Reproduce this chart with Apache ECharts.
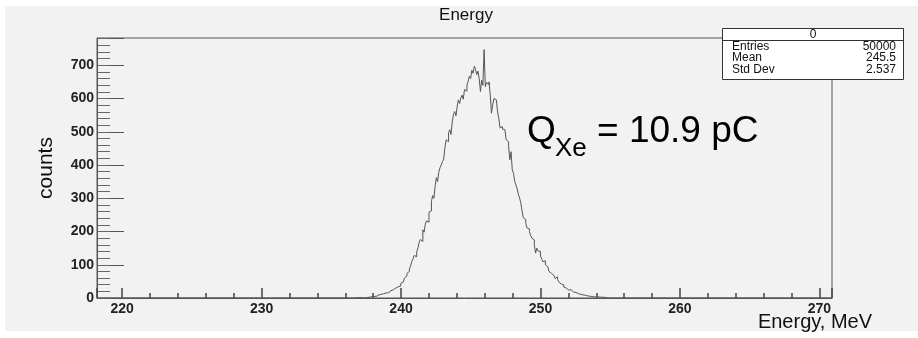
<!DOCTYPE html>
<html>
<head>
<meta charset="utf-8">
<script src="https://cdn.jsdelivr.net/npm/echarts@6/dist/echarts.min.js"></script>
<style>
  html, body { margin: 0; padding: 0; background: #fff; }
  #chart { width: 918px; height: 338px; }
</style>
</head>
<body>
<div id="chart"></div>
<script>
// histogram binning (ROOT style: 600 bins from 218.2 to 270.9)
var binLow = 218.2;
var binHigh = 270.9;
var nBins = 600;
var firstBin = 202;   // first bin listed in counts[]

// bin contents, starting at bin 202 (~235.9 MeV)
var counts = [
    0, 0, 1, 0, 0, 0, 1, 0, 0, 1,
    0, 1, 0, 1, 1, 0, 2, 1, 1, 2,
    3, 4, 3, 5, 6, 5, 7, 9, 8, 11,
    10, 13, 12, 15, 17, 16, 19, 22, 21, 25,
    27, 30, 28, 34, 38, 36, 44, 48, 52, 60,
    66, 74, 80, 88, 96, 110, 118, 128, 124, 140,
    150, 168, 176, 170, 205, 198, 222, 232, 228, 258,
    262, 290, 308, 300, 335, 362, 350, 378, 392, 400,
    410, 418, 452, 476, 470, 498, 506, 492, 530, 552,
    561, 548, 575, 596, 585, 602, 610, 598, 627, 622,
    640, 652, 667, 660, 685, 676, 697, 688, 672, 682,
    660, 621, 655, 640, 747, 636, 648, 642, 650, 612,
    556, 581, 600, 596, 590, 560, 540, 512, 515, 508,
    506, 500, 476, 470, 456, 416, 440, 386, 375, 350,
    340, 328, 312, 300, 285, 262, 241, 236, 225, 211,
    208, 200, 188, 180, 175, 160, 135, 150, 142, 140,
    126, 118, 109, 112, 100, 94, 88, 80, 74, 72,
    68, 62, 58, 64, 56, 48, 42, 36, 40, 33,
    30, 28, 24, 22, 25, 20, 18, 16, 17, 14,
    13, 12, 11, 10, 9, 10, 8, 7, 6, 7,
    5, 6, 4, 5, 3, 4, 3, 2, 3, 2,
    2, 1, 2, 1, 0, 1, 0, 1
];

var statNames = ['Entries', 'Mean', 'Std Dev'];
var statValues = ['50000', '245.5', '2.537'];

var yMax = 782;

var histogram = function () {
    var myChart = echarts.init(document.getElementById('chart'));
    var w = (binHigh - binLow) / nBins;

    // step line: one point per bin low edge
    var pts = [[binLow, 0]];
    for (var i = 0; i < counts.length; i++) {
        pts.push([binLow + (firstBin + i) * w, counts[i]]);
    }
    pts.push([binLow + (firstBin + counts.length) * w, 0]);
    pts.push([binHigh, 0]);

    var font = 'Liberation Sans, Arial, sans-serif';
    var isMult = function (v, m) { return Math.abs(v - Math.round(v / m) * m) < 1e-6; };

    var stats = [];
    statNames.forEach(function (n, k) {
        var y = 46.5 + k * 11.5;
        stats.push({ type: 'text', x: 732, y: y, style: { text: n, font: '12px ' + font, fill: '#111', textAlign: 'left', textVerticalAlign: 'middle' }, z: 101 });
        stats.push({ type: 'text', x: 896, y: y, style: { text: statValues[k], font: '12px ' + font, fill: '#111', textAlign: 'right', textVerticalAlign: 'middle' }, z: 101 });
    });

    option = {
        backgroundColor: '#fff',
        animation: false,
        grid: {
            left: 97, top: 38, right: 86, bottom: 40,
            show: true, borderColor: '#555', borderWidth: 1, backgroundColor: 'transparent'
        },
        xAxis: [
            {
                type: 'value', min: binLow, max: binHigh, splitNumber: 5,
                axisLine: { show: true, onZero: false, lineStyle: { color: '#555' } },
                axisTick: { show: true, inside: true, length: 10, lineStyle: { color: '#444', width: 1.5 } },
                splitLine: { show: false },
                axisLabel: {
                    margin: 4, fontSize: 14, fontWeight: 'bold', color: '#222', fontFamily: font,
                    formatter: function (v) { return isMult(v, 10) ? String(Math.round(v)) : ''; }
                }
            },
            {
                // secondary ticks every 2 MeV
                type: 'value', min: binLow, max: binHigh, splitNumber: 26, position: 'bottom',
                axisLine: { show: true, onZero: false, lineStyle: { color: 'rgba(0,0,0,0)' } },
                axisTick: { show: true, inside: true, length: 5, lineStyle: { color: '#444', width: 1.5 } },
                splitLine: { show: false },
                axisLabel: { show: false }
            }
        ],
        yAxis: [
            {
                type: 'value', min: 0, max: yMax, interval: 100,
                axisLine: { show: true, lineStyle: { color: '#555' } },
                axisTick: { show: true, inside: true, length: 27, lineStyle: { color: '#555' } },
                splitLine: { show: false },
                axisLabel: {
                    margin: 3, fontSize: 14, fontWeight: 'bold', color: '#222', fontFamily: font,
                    formatter: function (v) { return isMult(v, 100) ? String(Math.round(v)) : ''; }
                }
            },
            {
                type: 'value', min: 0, max: yMax, interval: 20, position: 'left',
                axisLine: { show: false },
                axisTick: { show: true, inside: true, length: 13, lineStyle: { color: '#666' } },
                splitLine: { show: false },
                axisLabel: { show: false }
            }
        ],
        graphic: [
            { type: 'rect', shape: { x: 5, y: 6, width: 913, height: 325 }, style: { fill: '#f2f2f2' }, z: -10, silent: true },
            { type: 'text', x: 466, y: 15, style: { text: 'Energy', font: '17px ' + font, fill: '#111', textAlign: 'center', textVerticalAlign: 'middle' }, z: 100 },
            { type: 'text', x: 46, y: 168, rotation: Math.PI / 2, style: { text: 'counts', font: '21px ' + font, fill: '#111', textAlign: 'center', textVerticalAlign: 'middle' }, z: 100 },
            { type: 'text', x: 872, y: 322, style: { text: 'Energy, MeV', font: '20px ' + font, fill: '#111', textAlign: 'right', textVerticalAlign: 'middle' }, z: 100 },
            { type: 'text', x: 527, y: 132, style: { text: 'Q', font: '37px ' + font, fill: '#000', textAlign: 'left', textVerticalAlign: 'middle' }, z: 100 },
            { type: 'text', x: 555, y: 149, style: { text: 'Xe', font: '26px ' + font, fill: '#000', textAlign: 'left', textVerticalAlign: 'middle' }, z: 100 },
            { type: 'text', x: 597, y: 132, style: { text: '= 10.9 pC', font: '37px ' + font, fill: '#000', textAlign: 'left', textVerticalAlign: 'middle' }, z: 100 },
            // stats box
            { type: 'rect', shape: { x: 722.5, y: 28.5, width: 181, height: 51 }, style: { fill: '#fff', stroke: '#333', lineWidth: 1 }, z: 100 },
            { type: 'line', shape: { x1: 722.5, y1: 40.5, x2: 903.5, y2: 40.5 }, style: { stroke: '#333', lineWidth: 1 }, z: 101 },
            { type: 'text', x: 813, y: 34.5, style: { text: '0', font: '12px ' + font, fill: '#111', textAlign: 'center', textVerticalAlign: 'middle' }, z: 101 }
        ].concat(stats),
        series: [
            {
                type: 'line', step: 'end', showSymbol: false, symbol: 'none',
                xAxisIndex: 0, yAxisIndex: 0,
                lineStyle: { color: '#555', width: 1 },
                data: pts
            }
        ]
    };

    myChart.setOption(option);
};

histogram();
</script>
</body>
</html>
